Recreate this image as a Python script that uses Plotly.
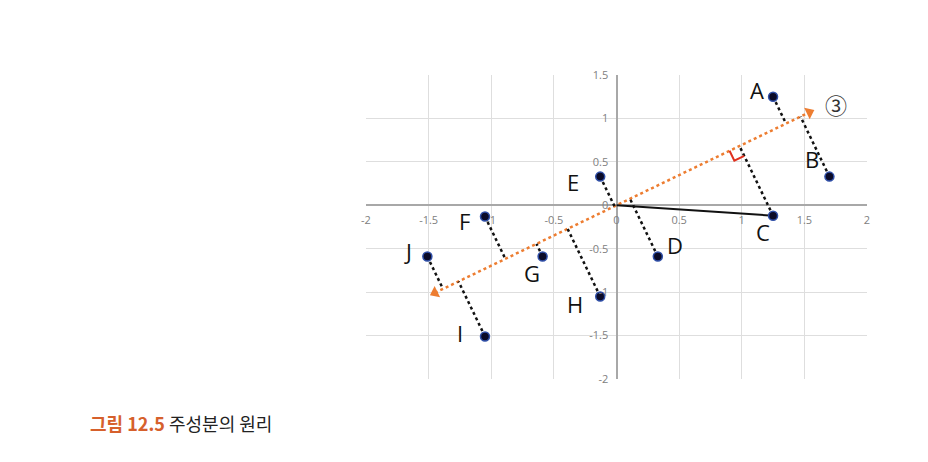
import math
import plotly.graph_objects as go

# ---------------- data ----------------
point_labels = ["A", "B", "C", "D", "E", "F", "G", "H", "I", "J"]
x_values = [1.25, 1.70, 1.25, 0.33, -0.13, -1.05, -0.59, -0.13, -1.05, -1.51]
y_values = [1.25, 0.33, -0.12, -0.59, 0.33, -0.13, -0.59, -1.05, -1.51, -0.59]

pc_slope = 0.695            # direction of principal axis (data units)
pc_x_range = [-1.45, 1.54]  # extent of the arrow along x
right_angle_point = "C"

x_tickvals = [-2, -1.5, -1, -0.5, 0, 0.5, 1, 1.5, 2]
x_ticktext = ["-2", "-1.5", "-1", "-0.5", "0", "0.5", "1", "1.5", "2"]
y_tickvals = [1.5, 1, 0.5, 0, -0.5, -1, -1.5, -2]
y_ticktext = ["1.5", "1", "0.5", "0", "-0.5", "-1", "-1.5", "-2"]

caption_prefix = "그림 12.5"
caption_text = "주성분의 원리"
axis_label = "③"

# ---------------- layout geometry ----------------
BODY = 8  # default page margin of the html body
W, H = 928 - BODY, 462 - BODY
ML, MT = 366 - BODY, 75 - BODY
pw, ph = 501, 304
MR, MB = W - ML - pw, H - MT - ph
XR = [-2, 2]
YR = [-2, 1.5]
sx = pw / (XR[1] - XR[0])
sy = ph / (YR[1] - YR[0])

# unit direction of principal axis in display space
dx, dy = sx, pc_slope * sy
n = math.hypot(dx, dy)
ux, uy = dx / n, dy / n


def project(x, y):
    X, Y = x * sx, y * sy
    t = X * ux + Y * uy
    return (t * ux) / sx, (t * uy) / sy


ORANGE = "#ed7d31"

fig = go.Figure()

# principal axis (dotted orange)
pc_x = pc_x_range
pc_y = [pc_slope * v for v in pc_x]
fig.add_trace(go.Scatter(x=pc_x, y=pc_y, mode="lines",
                         line=dict(color=ORANGE, width=2.5, dash="dot"),
                         hoverinfo="skip"))
theta = math.degrees(math.atan2(uy, ux))
fig.add_trace(go.Scatter(x=[pc_x[1], pc_x[0]], y=[pc_y[1], pc_y[0]], mode="markers",
                         marker=dict(symbol="triangle-up", size=11, color=ORANGE,
                                     angle=[90 - theta, 270 - theta]),
                         hoverinfo="skip"))

# projection lines (dotted black)
lx, ly = [], []
for x, y in zip(x_values, y_values):
    px, py = project(x, y)
    lx += [x, px, None]
    ly += [y, py, None]
fig.add_trace(go.Scatter(x=lx, y=ly, mode="lines",
                         line=dict(color="#111111", width=2.5, dash="dot"),
                         hoverinfo="skip"))

# solid line from origin to C
ci = point_labels.index(right_angle_point)
cx, cy = x_values[ci], y_values[ci]
fig.add_trace(go.Scatter(x=[0, cx], y=[0, cy], mode="lines",
                         line=dict(color="#111111", width=2), hoverinfo="skip"))

# right-angle marker at projection of C
pcx, pcy = project(cx, cy)
PX, PY = pcx * sx, pcy * sy
vX, vY = cx * sx - PX, cy * sy - PY
vn = math.hypot(vX, vY)
vX, vY = vX / vn, vY / vn
s = 11
pts = [(PX - s * ux, PY - s * uy),
       (PX - s * ux + s * vX, PY - s * uy + s * vY),
       (PX + s * vX, PY + s * vY)]
fig.add_trace(go.Scatter(x=[p[0] / sx for p in pts], y=[p[1] / sy for p in pts],
                         mode="lines", line=dict(color="#e0301e", width=2),
                         hoverinfo="skip"))

# points
fig.add_trace(go.Scatter(x=x_values, y=y_values, mode="markers",
                         marker=dict(size=9, color="#0b0b28",
                                     line=dict(color="#2f4fa8", width=1.5)),
                         hoverinfo="skip"))

# point labels
label_offsets = {"A": (-16, -7), "B": (-17, -18), "C": (-10, 16), "D": (17, -12),
                 "E": (-27, 5), "F": (-20, 4), "G": (-11, 16), "H": (-25, 8),
                 "I": (-25, -3), "J": (-19, -6)}
for lab, x, y in zip(point_labels, x_values, y_values):
    ox, oy = label_offsets[lab]
    fig.add_annotation(x=x, y=y, text=lab, showarrow=False,
                       xshift=ox, yshift=-oy,
                       font=dict(family="Open Sans", size=22, color="#111111"))

# circled 3 near arrow tip
fig.add_annotation(x=pc_x[1], y=pc_y[1], text=axis_label, showarrow=False,
                   xshift=27, yshift=8,
                   font=dict(family="Noto Sans CJK KR", size=22, color="#333333"))

# caption
fig.add_annotation(xref="paper", yref="paper",
                   x=(88 - BODY - ML) / pw, y=(H - MB - (423 - BODY)) / ph,
                   xanchor="left", yanchor="middle", showarrow=False,
                   text=f"<span style='color:#d6602c'><b>{caption_prefix}</b></span> {caption_text}",
                   font=dict(family="Noto Sans CJK KR", size=18, color="#222222"))

tickfont = dict(family="Open Sans", size=11, color="#808080")
fig.update_layout(
    width=W, height=H,
    margin=dict(l=ML, r=MR, t=MT, b=MB),
    paper_bgcolor="white", plot_bgcolor="white",
    showlegend=False,
    xaxis=dict(range=XR, tickvals=x_tickvals, ticktext=x_ticktext,
               showgrid=True, gridcolor="#dedede", gridwidth=1,
               zeroline=True, zerolinecolor="#a8a8a8", zerolinewidth=1.5,
               anchor="free", position=(0 - YR[0]) / (YR[1] - YR[0]),
               ticks="outside", ticklen=5, tickcolor="rgba(0,0,0,0)",
               tickfont=tickfont, showline=False),
    yaxis=dict(range=YR, tickvals=y_tickvals, ticktext=y_ticktext,
               showgrid=True, gridcolor="#dedede", gridwidth=1,
               zeroline=True, zerolinecolor="#a8a8a8", zerolinewidth=1.5,
               anchor="free", position=(0 - XR[0]) / (XR[1] - XR[0]),
               ticks="outside", ticklen=6, tickcolor="rgba(0,0,0,0)",
               tickfont=tickfont, showline=False),
)

fig.write_html("out.html")
